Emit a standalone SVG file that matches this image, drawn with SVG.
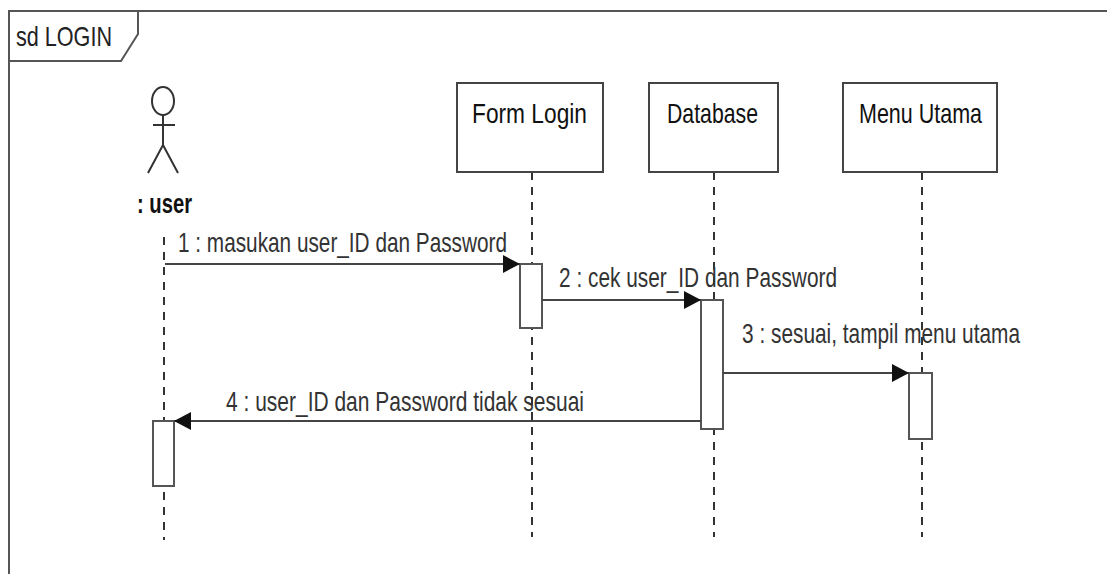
<svg xmlns="http://www.w3.org/2000/svg" width="1107" height="574" viewBox="0 0 1107 574">
<style>
.frame{fill:none;stroke:#555;stroke-width:2}
.box{fill:#fff;stroke:#444;stroke-width:2}
.act{fill:#fff;stroke:#555;stroke-width:2}
.life{fill:none;stroke:#333;stroke-width:2;stroke-dasharray:8 7}
.msg{fill:none;stroke:#444;stroke-width:2}
.actor{fill:none;stroke:#333;stroke-width:2}
text{font-family:"Liberation Sans",Arial,sans-serif;font-size:28px}
.name{fill:#111}
.lbl{fill:#333}
</style>
<defs>
<marker id="ah" markerWidth="18" markerHeight="18" refX="17" refY="9" orient="auto" markerUnits="userSpaceOnUse">
<path d="M0,0 L17,9 L0,18 Z" fill="#111"/>
</marker>
</defs>
<rect width="1107" height="574" fill="#fff"/>
<g id="frame">
<path class="frame" d="M9,576 V11 H1110"/>
<path class="frame" d="M9,61 H121 L138,34 V11"/>
<text x="16" y="46" textLength="96" lengthAdjust="spacingAndGlyphs" fill="#222">sd LOGIN</text>
</g>
<g id="user">
<ellipse class="actor" cx="163" cy="101" rx="11" ry="14"/>
<path class="actor" d="M163,115 V145 M153,125 H175 M163,145 L148,173 M163,145 L178,173"/>
<text x="137" y="213" textLength="55" lengthAdjust="spacingAndGlyphs" class="name" font-weight="bold">: user</text>
<line class="life" x1="164" y1="237" x2="164" y2="540"/>
<rect class="act" x="153" y="421" width="21" height="65"/>
</g>
<g id="formlogin">
<line class="life" x1="532" y1="172" x2="532" y2="537"/>
<rect class="box" x="457" y="83" width="146" height="89"/>
<text x="472" y="123" textLength="115" lengthAdjust="spacingAndGlyphs" class="name">Form Login</text>
<rect class="act" x="520" y="264" width="22" height="64"/>
</g>
<g id="database">
<line class="life" x1="714" y1="172" x2="714" y2="537"/>
<rect class="box" x="649" y="83" width="129" height="89"/>
<text x="667" y="123" textLength="91" lengthAdjust="spacingAndGlyphs" class="name">Database</text>
<rect class="act" x="701" y="300" width="22" height="129"/>
</g>
<g id="menuutama">
<line class="life" x1="922" y1="172" x2="922" y2="537"/>
<rect class="box" x="843" y="83" width="154" height="89"/>
<text x="859" y="123" textLength="123" lengthAdjust="spacingAndGlyphs" class="name">Menu Utama</text>
<rect class="act" x="909" y="373" width="23" height="66"/>
</g>
<g id="connectors">
<line class="msg" x1="165" y1="264" x2="520" y2="264" marker-end="url(#ah)"/>
<text x="178" y="252" textLength="329" lengthAdjust="spacingAndGlyphs" class="lbl">1 : masukan user_ID dan Password</text>
<line class="msg" x1="542" y1="300" x2="701" y2="300" marker-end="url(#ah)"/>
<text x="559" y="287" textLength="278" lengthAdjust="spacingAndGlyphs" class="lbl">2 : cek user_ID dan Password</text>
<line class="msg" x1="723" y1="373" x2="909" y2="373" marker-end="url(#ah)"/>
<text x="742" y="343" textLength="278" lengthAdjust="spacingAndGlyphs" class="lbl">3 : sesuai, tampil menu utama</text>
<line class="msg" x1="701" y1="421" x2="174" y2="421" marker-end="url(#ah)"/>
<text x="226" y="411" textLength="358" lengthAdjust="spacingAndGlyphs" class="lbl">4 : user_ID dan Password tidak sesuai</text>
</g>
</svg>
